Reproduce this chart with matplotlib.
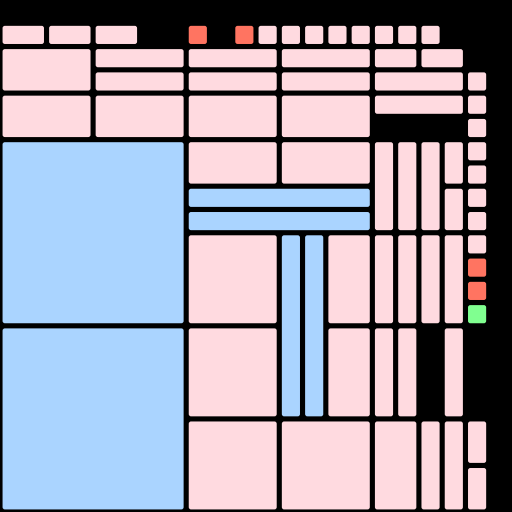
import matplotlib
matplotlib.use("Agg")
import matplotlib.pyplot as plt
from matplotlib.patches import FancyBboxPatch

# Block layout on a 22x22 grid: column, row, column span, row span, kind
cols = [0, 2, 4, 8, 10, 11, 12, 13, 14, 15, 16, 17, 18,
        0, 4, 8, 12, 16, 18,
        4, 8, 12, 16, 20,
        0, 4, 8, 12, 16, 20, 20,
        0, 0,
        8, 12, 8, 8,
        16, 17, 18, 19, 19,
        20, 20, 20, 20, 20, 20, 20, 20,
        8, 12, 13, 14, 16, 17, 18, 19,
        8, 14, 16, 17, 19,
        8, 12, 16, 18, 19, 20, 20]
rows = [1, 1, 1, 1, 1, 1, 1, 1, 1, 1, 1, 1, 1,
        2, 2, 2, 2, 2, 2,
        3, 3, 3, 3, 3,
        4, 4, 4, 4, 4, 4, 5,
        6, 14,
        6, 6, 8, 9,
        6, 6, 6, 6, 8,
        6, 7, 8, 9, 10, 11, 12, 13,
        10, 10, 10, 10, 10, 10, 10, 10,
        14, 14, 14, 14, 14,
        18, 18, 18, 18, 18, 18, 20]
col_span = [2, 2, 2, 1, 1, 1, 1, 1, 1, 1, 1, 1, 1,
            4, 4, 4, 4, 2, 2,
            4, 4, 4, 4, 1,
            4, 4, 4, 4, 4, 1, 1,
            8, 8,
            4, 4, 8, 8,
            1, 1, 1, 1, 1,
            1, 1, 1, 1, 1, 1, 1, 1,
            4, 1, 1, 2, 1, 1, 1, 1,
            4, 2, 1, 1, 1,
            4, 4, 2, 1, 1, 1, 1]
row_span = [1, 1, 1, 1, 1, 1, 1, 1, 1, 1, 1, 1, 1,
            2, 1, 1, 1, 1, 1,
            1, 1, 1, 1, 1,
            2, 2, 2, 2, 1, 1, 1,
            8, 8,
            2, 2, 1, 1,
            4, 4, 4, 2, 2,
            1, 1, 1, 1, 1, 1, 1, 1,
            4, 8, 8, 4, 4, 4, 4, 4,
            4, 4, 4, 4, 4,
            4, 4, 4, 4, 4, 2, 2]
kinds = (["p", "p", "p", "r", "r"] + ["p"] * 8 +
         ["p"] * 6 +
         ["p"] * 5 +
         ["p"] * 7 +
         ["b", "b"] +
         ["p", "p", "b", "b"] +
         ["p"] * 5 +
         ["p"] * 5 + ["r", "r", "g"] +
         ["p", "b", "b", "p", "p", "p", "p", "p"] +
         ["p"] * 5 +
         ["p"] * 7)

palette = {"p": "#ffdae0", "b": "#aad4ff", "r": "#ff7461", "g": "#80ff90"}

N = 22
fig = plt.figure(figsize=(5.12, 5.12), dpi=100, facecolor="black")
ax = fig.add_axes([0, 0, 1, 1])
ax.set_facecolor("black")
ax.set_xlim(0, N)
ax.set_ylim(N, 0)
ax.axis("off")

inset = 0.11
for c, r, w, h, k in zip(cols, rows, col_span, row_span, kinds):
    patch = FancyBboxPatch((c + inset, r + inset), w - 2 * inset, h - 2 * inset,
                           boxstyle="round,pad=0,rounding_size=0.1",
                           facecolor=palette[k], edgecolor="none")
    ax.add_patch(patch)

fig.savefig("out.png", dpi=100, facecolor="black")
